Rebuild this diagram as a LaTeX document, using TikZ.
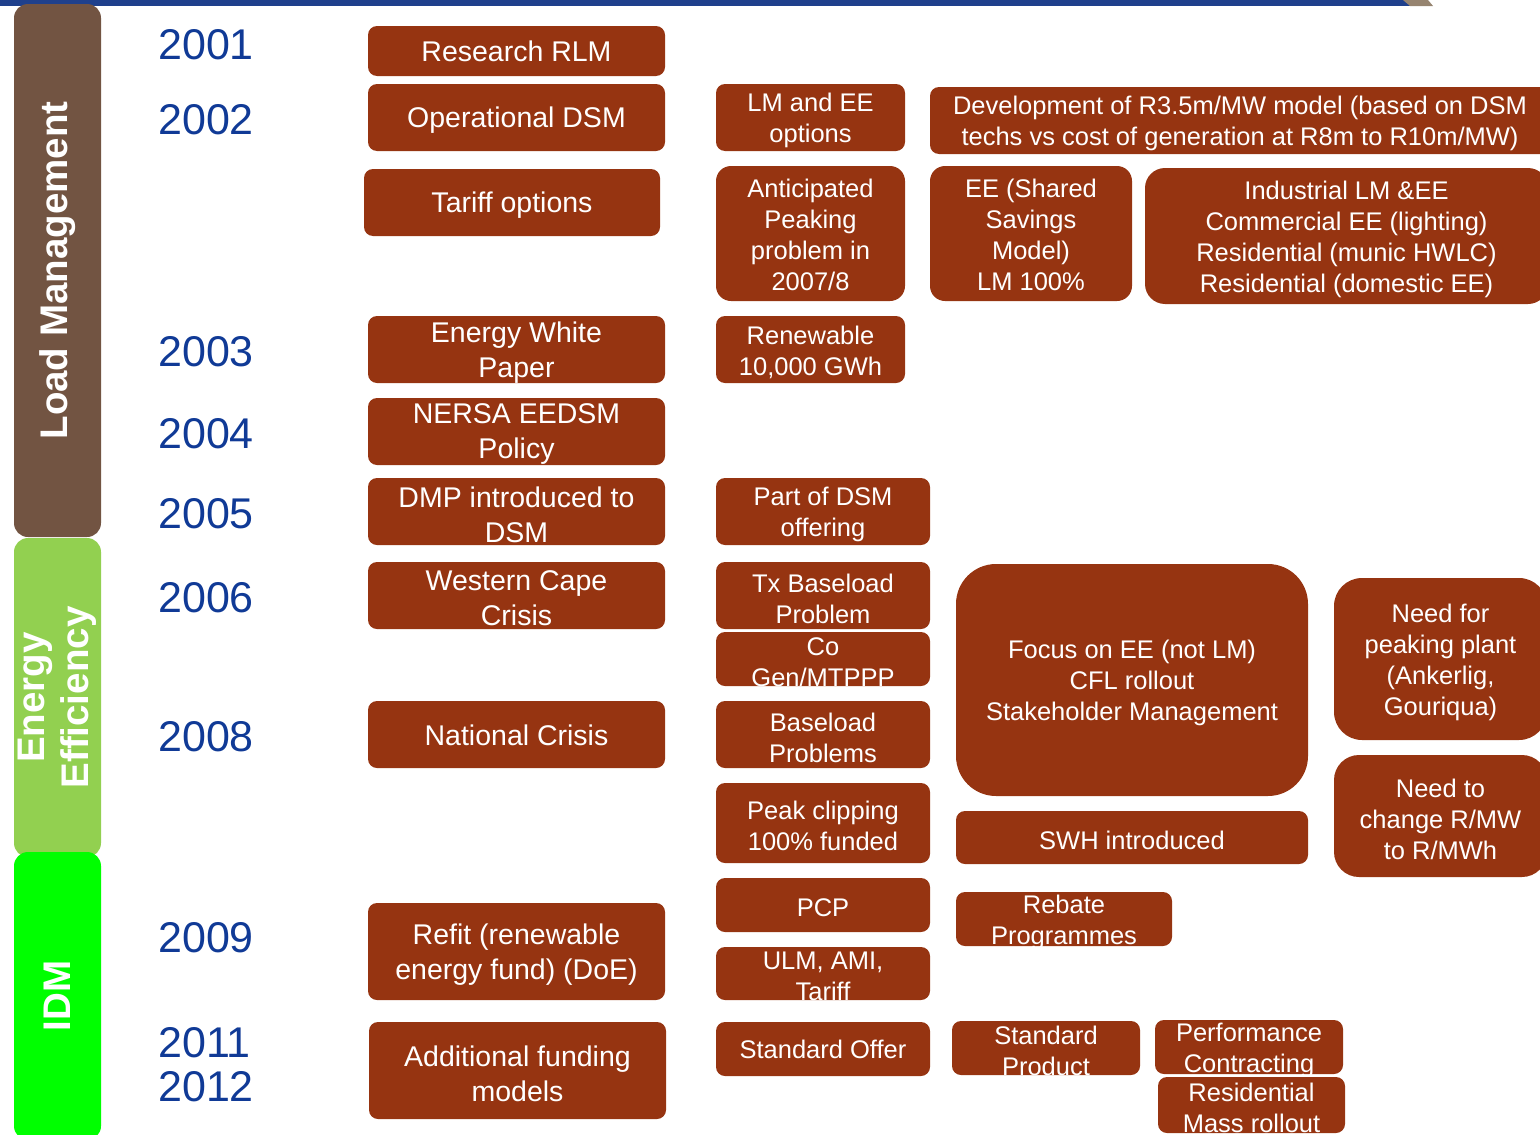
\documentclass[tikz,border=0pt]{standalone}
\usepackage{fontspec}
\setmainfont{Liberation Sans}
\definecolor{evtred}{RGB}{150,52,17}
\definecolor{yrblue}{RGB}{16,58,150}
\definecolor{topblue}{RGB}{31,64,140}
\definecolor{slantgray}{RGB}{150,132,112}
\definecolor{lmbrown}{RGB}{114,84,66}
\definecolor{eegreen}{RGB}{146,208,80}
\definecolor{idmgreen}{RGB}{0,255,0}
\tikzset{
  evt/.style={rectangle, fill=evtred, rounded corners=9, inner sep=0pt},
  txta/.style={text=white, align=center, inner sep=0pt, yshift=-3pt, font=\fontsize{28.5}{35}\selectfont},
  txtb/.style={text=white, align=center, inner sep=0pt, yshift=-3pt, font=\fontsize{25.5}{31}\selectfont},
  yr/.style={anchor=west, text=yrblue, inner sep=0pt, font=\fontsize{43}{43}\selectfont},
  sidebar/.style={rectangle, rounded corners=14, inner sep=0pt, minimum height=87, rotate=90,
    text=white, align=center, font=\bfseries\fontsize{38.5}{44}\selectfont},
}
\begin{document}
\begin{tikzpicture}[x=1pt, y=-1pt]
        \useasboundingbox (0,0) rectangle (1540,1135);
        \clip (0,0) rectangle (1540,1135);

        % Top rule
        \fill[topblue] (0,0) rectangle (1410,6);
        \fill[slantgray] (1403,0) -- (1428,0) -- (1433,6) -- (1410,6) -- cycle;

        % Side bars
        \node[sidebar, fill=lmbrown, minimum width=533] (lm) at (57.5,270.5) {Load Management};
        \node[sidebar, fill=eegreen, minimum width=319] (ee) at (57.5,697.5) {Energy\\Efficiency};
        \node[sidebar, fill=idmgreen, minimum width=288] (idm) at (57.5,996) {IDM};

        % Years
        \node[yr] (y2001) at (158,45) {2001};
        \node[yr] (y2002) at (158,120) {2002};
        \node[yr] (y2003) at (158,352) {2003};
        \node[yr] (y2004) at (158,434) {2004};
        \node[yr] (y2005) at (158,514) {2005};
        \node[yr] (y2006) at (158,598) {2006};
        \node[yr] (y2008) at (158,737) {2008};
        \node[yr] (y2009) at (158,938) {2009};
        \node[yr] (y2011) at (158,1043) {2011};
        \node[yr] (y2012) at (158,1087) {2012};

        % Milestones
        \node[evt, minimum width=297, minimum height=50, label={[txta, yshift=3pt]center:Research RLM}] (rlm) at (516.5,51) {};
        \node[evt, minimum width=297, minimum height=67, label={[txta]center:Operational DSM}] (opdsm) at (516.5,117.5) {};
        \node[evt, minimum width=296, minimum height=67, label={[txta]center:Tariff options}] (tariff) at (512,202.5) {};
        \node[evt, minimum width=297, minimum height=67, label={[txta]center:{Energy White\\Paper}}] (ewp) at (516.5,349.5) {};
        \node[evt, minimum width=297, minimum height=67, label={[txta]center:{NERSA EEDSM\\Policy}}] (nersa) at (516.5,431.5) {};
        \node[evt, minimum width=297, minimum height=67, label={[txta]center:{DMP introduced to\\DSM}}] (dmp) at (516.5,511.5) {};
        \node[evt, minimum width=297, minimum height=67, label={[txta]center:{Western Cape\\Crisis}}] (wcape) at (516.5,595.5) {};
        \node[evt, minimum width=297, minimum height=67, label={[txta, yshift=2pt]center:National Crisis}] (natcr) at (516.5,734.5) {};
        \node[evt, minimum width=297, minimum height=97, label={[txta]center:{Refit (renewable\\energy fund) (DoE)}}] (refit) at (516.5,951.5) {};
        \node[evt, minimum width=297, minimum height=97, label={[txta]center:{Additional funding\\models}}] (addfund) at (517.5,1070.5) {};

        % Second column
        \node[evt, minimum width=189, minimum height=67, label={[txtb]center:{LM and EE\\options}}] (lmee) at (810.5,117.5) {};
        \node[evt, rounded corners=15, minimum width=189, minimum height=135, label={[txtb, yshift=2pt]center:{Anticipated\\Peaking\\problem in\\2007/8}}] (antic) at (810.5,233.5) {};
        \node[evt, minimum width=189, minimum height=67, label={[txtb]center:{Renewable\\10,000 GWh}}] (renew) at (810.5,349.5) {};
        \node[evt, minimum width=214, minimum height=67, label={[txtb]center:{Part of DSM\\offering}}] (partdsm) at (823,511.5) {};
        \node[evt, minimum width=214, minimum height=67, label={[txtb]center:{Tx Baseload\\Problem}}] (txbase) at (823,595.5) {};
        \node[evt, minimum width=214, minimum height=54, label={[txtb]center:{Co\\Gen/MTPPP}}] (cogen) at (823,659) {};
        \node[evt, minimum width=214, minimum height=67, label={[txtb]center:{Baseload\\Problems}}] (baseprob) at (823,734.5) {};
        \node[evt, minimum width=214, minimum height=80, label={[txtb]center:{Peak clipping\\100\% funded}}] (peakclip) at (823,823) {};
        \node[evt, minimum width=214, minimum height=54, label={[txtb]center:PCP}] (pcp) at (823,905) {};
        \node[evt, minimum width=214, minimum height=53, label={[txtb]center:{ULM, AMI,\\Tariff}}] (ulm) at (823,973.5) {};
        \node[evt, minimum width=214, minimum height=54, label={[txtb, yshift=3pt]center:Standard Offer}] (stdoffer) at (823,1049) {};

        % Further columns
        \node[evt, minimum width=620, minimum height=67, label={[txtb]center:{Development of R3.5m/MW model (based on DSM\\techs vs cost of generation at R8m to R10m/MW)}}] (devmodel) at (1240,120.5) {};
        \node[evt, rounded corners=15, minimum width=202, minimum height=135, label={[txtb, yshift=2pt]center:{EE (Shared\\Savings\\Model)\\LM 100\%}}] (eessm) at (1031,233.5) {};
        \node[evt, rounded corners=20, minimum width=403, minimum height=136, label={[txtb]center:{Industrial LM \&EE\\Commercial EE (lighting)\\Residential (munic HWLC)\\Residential (domestic EE)}}] (indus) at (1346.5,236) {};
        \node[evt, rounded corners=40, minimum width=352, minimum height=232, label={[txtb]center:{Focus on EE (not LM)\\CFL rollout\\Stakeholder Management}}] (focus) at (1132,680) {};
        \node[evt, minimum width=352, minimum height=53, label={[txtb]center:SWH introduced}] (swh) at (1132,837.5) {};
        \node[evt, minimum width=216, minimum height=54, label={[txtb]center:{Rebate\\Programmes}}] (rebate) at (1064,919) {};
        \node[evt, minimum width=188, minimum height=54, label={[txtb]center:{Standard\\Product}}] (stdprod) at (1046,1048) {};
        \node[evt, rounded corners=28, minimum width=213, minimum height=162, label={[txtb]center:{Need for\\peaking plant\\(Ankerlig,\\Gouriqua)}}] (needpeak) at (1440.5,659) {};
        \node[evt, rounded corners=25, minimum width=213, minimum height=122, label={[txtb]center:{Need to\\change R/MW\\to R/MWh}}] (needchg) at (1440.5,816) {};
        \node[evt, minimum width=188, minimum height=54, label={[txtb]center:{Performance\\Contracting}}] (perfc) at (1249,1047) {};
        \node[evt, minimum width=187, minimum height=56, label={[txtb]center:{Residential\\Mass rollout}}] (resmass) at (1251.5,1105) {};
\end{tikzpicture}
\end{document}
